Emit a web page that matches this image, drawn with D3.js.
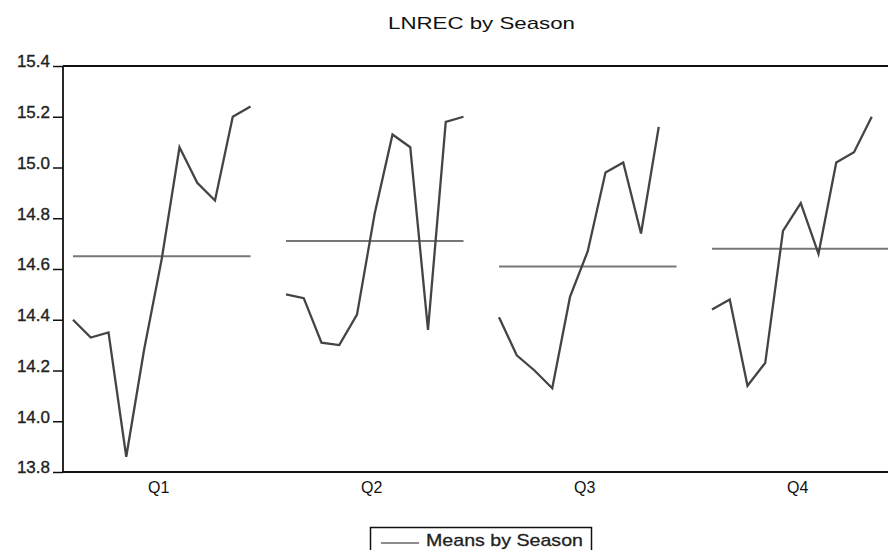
<!DOCTYPE html>
<html>
<head>
<meta charset="utf-8">
<script src="https://cdn.jsdelivr.net/npm/d3@7"></script>
<style>
  body { margin: 0; background: #fff; }
  svg { display: block; font-family: "Liberation Sans", Arial, sans-serif; }
</style>
</head>
<body>
<svg id="chart" width="888" height="550"></svg>
<script>
// values, one array per season
const seasons = ["Q1", "Q2", "Q3", "Q4"];
const q1 = [14.40, 14.33, 14.35, 13.86, 14.28, 14.64, 15.08, 14.94, 14.87, 15.20, 15.24];
const q2 = [14.50, 14.485, 14.31, 14.30, 14.42, 14.82, 15.13, 15.08, 14.36, 15.18, 15.20];
const q3 = [14.41, 14.26, 14.20, 14.13, 14.49, 14.67, 14.98, 15.02, 14.74, 15.16];
const q4 = [14.44, 14.48, 14.14, 14.23, 14.75, 14.86, 14.66, 15.02, 15.06, 15.20];
const means = [14.65, 14.71, 14.61, 14.68];
const yTicks = [13.8, 14.0, 14.2, 14.4, 14.6, 14.8, 15.0, 15.2, 15.4];

const series = [q1, q2, q3, q4];
const slotsPerSeason = 12; // 11 years + a gap
const meanSlots = 11;

const svg = d3.select("#chart");
const plotLeft = 63, plotTop = 66, plotBottom = 472;

// x: slot index -> pixel
const x = d3.scaleLinear().domain([0, 46]).range([73, 889.5]);
const y = d3.scaleLinear().domain([13.8, 15.4]).range([plotBottom, plotTop]);

// title
svg.append("text")
  .attr("x", 481.5).attr("y", 29)
  .attr("text-anchor", "middle")
  .attr("font-size", 17)
  .attr("textLength", 187).attr("lengthAdjust", "spacingAndGlyphs")
  .attr("fill", "#111")
  .text("LNREC by Season");

// y axis
const yAxis = d3.axisLeft(y).tickValues(yTicks).tickFormat(d3.format(".1f")).tickSize(10).tickPadding(3);
const gy = svg.append("g").attr("transform", `translate(${plotLeft},0)`).call(yAxis);
gy.select(".domain").remove();
gy.selectAll(".tick line").attr("stroke", "#111").attr("stroke-width", 1.5);
gy.selectAll(".tick text")
  .attr("font-size", 17).attr("fill", "#222")
  .attr("stroke", "#222").attr("stroke-width", 0.35)
  .attr("font-family", "Liberation Sans, Arial, sans-serif")
  .attr("dy", "0.05em");

// frame: left, top, bottom
svg.append("line").attr("x1", plotLeft).attr("x2", plotLeft).attr("y1", plotTop).attr("y2", plotBottom)
  .attr("stroke", "#111").attr("stroke-width", 1.8);
svg.append("line").attr("x1", plotLeft).attr("x2", 900).attr("y1", plotTop).attr("y2", plotTop)
  .attr("stroke", "#111").attr("stroke-width", 2);
svg.append("line").attr("x1", plotLeft).attr("x2", 900).attr("y1", plotBottom).attr("y2", plotBottom)
  .attr("stroke", "#111").attr("stroke-width", 2);

// season labels
svg.selectAll(".season")
  .data(seasons)
  .enter()
  .append("text")
  .attr("class", "season")
  .attr("x", (d, i) => x(i * slotsPerSeason + (meanSlots - 1) / 2) - 3)
  .attr("y", 493)
  .attr("text-anchor", "middle")
  .attr("font-size", 16)
  .attr("fill", "#111")
  .text(d => d);

// mean lines
svg.selectAll(".mean")
  .data(means)
  .enter()
  .append("line")
  .attr("class", "mean")
  .attr("x1", (d, i) => x(i * slotsPerSeason))
  .attr("x2", (d, i) => x(i * slotsPerSeason + meanSlots - 1))
  .attr("y1", d => y(d))
  .attr("y2", d => y(d))
  .attr("stroke", "#777")
  .attr("stroke-width", 2);

// data lines
const line = d3.line()
  .x(d => x(d.s))
  .y(d => y(d.v));

series.forEach(function (vals, k) {
  const pts = vals.map((v, i) => ({ s: k * slotsPerSeason + i, v: v }));
  svg.append("path")
    .datum(pts)
    .attr("d", line)
    .attr("fill", "none")
    .attr("stroke", "#444")
    .attr("stroke-width", 2.3)
    .attr("stroke-linejoin", "miter");
});

// legend
const lg = svg.append("g");
lg.append("rect")
  .attr("x", 370.5).attr("y", 527.5).attr("width", 221).attr("height", 30)
  .attr("fill", "none").attr("stroke", "#111").attr("stroke-width", 1.5);
lg.append("line")
  .attr("x1", 381).attr("x2", 419).attr("y1", 543).attr("y2", 543)
  .attr("stroke", "#666").attr("stroke-width", 1.5);
lg.append("text")
  .attr("x", 426).attr("y", 546)
  .attr("font-size", 17)
  .attr("textLength", 157).attr("lengthAdjust", "spacingAndGlyphs")
  .attr("fill", "#222").attr("stroke", "#222").attr("stroke-width", 0.3)
  .text("Means by Season");
</script>
</body>
</html>
